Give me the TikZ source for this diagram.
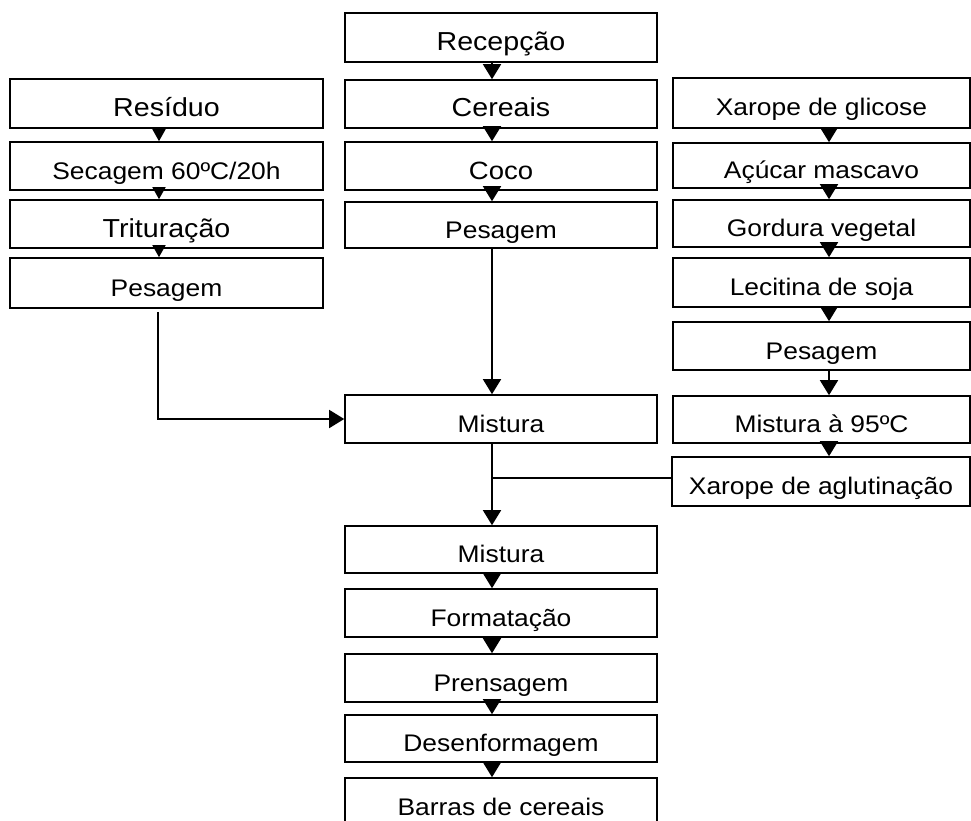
\documentclass[tikz,border=0pt]{standalone}
\usepackage{fontspec}
\setmainfont{Liberation Sans}[FakeStretch=1.1]
\usetikzlibrary{arrows.meta}
\begin{document}
\begin{tikzpicture}[x=1pt,y=-1pt,
  box/.style={draw,line width=1.6pt,rectangle,inner sep=0pt,text height=26pt,text depth=0pt,
    font=\fontsize{24}{28}\selectfont},
  big/.style={font=\fontsize{26}{30}\selectfont},
  cbox/.style={box,minimum width=312pt},
  lbox/.style={box,minimum width=313pt},
  rbox/.style={box,minimum width=297pt},
  arr/.style={line width=1.6pt,-{Triangle[length=15pt,width=18pt]}},
  sarr/.style={line width=1.6pt,-{Triangle[length=12pt,width=13pt]}},
  ln/.style={line width=1.6pt}]
\clip (0,0) rectangle (971,821);
\fill[white] (0,0) rectangle (971,821);
% centre column
\node[cbox,big,minimum height=49pt] (rec) at (501,37.5) {Recepção};
\node[cbox,big,minimum height=48pt] (cer) at (501,104) {Cereais};
\node[cbox,font=\fontsize{25}{29}\selectfont,minimum height=48pt] (coco) at (501,166) {Coco};
\node[cbox,minimum height=46pt] (pesc) at (501,225) {Pesagem};
\node[cbox,minimum height=48pt] (mis) at (501,419) {Mistura};
\node[cbox,minimum height=47pt] (mis2) at (501,549.5) {Mistura};
\node[cbox,minimum height=48pt] (form) at (501,613) {Formatação};
\node[cbox,minimum height=48pt] (pren) at (501,678) {Prensagem};
\node[cbox,minimum height=47pt] (desf) at (501,738.5) {Desenformagem};
\node[cbox,minimum height=48pt] (bar) at (501,802) {Barras de cereais};
% left column
\node[lbox,big,minimum height=49pt] (res) at (166.5,103.5) {Resíduo};
\node[lbox,minimum height=48pt] (sec) at (166.5,166) {Secagem 60ºC/20h};
\node[lbox,big,minimum height=48pt] (tri) at (166.5,224) {Trituração};
\node[lbox,minimum height=50pt] (pesl) at (166.5,283) {Pesagem};
% right column
\node[rbox,minimum height=50pt] (gli) at (821.5,103) {Xarope de glicose};
\node[rbox,minimum height=45pt] (acu) at (821.5,165.5) {Açúcar mascavo};
\node[rbox,minimum height=47pt] (gor) at (821.5,223.5) {Gordura vegetal};
\node[rbox,minimum height=49pt] (lec) at (821.5,282.5) {Lecitina de soja};
\node[rbox,minimum height=48pt] (pesr) at (821.5,346) {Pesagem};
\node[rbox,minimum height=47pt] (m95) at (821.5,419.5) {Mistura à 95ºC};
\node[box,minimum width=298pt,minimum height=49pt] (xag) at (821,481.5) {Xarope de aglutinação};
% connector x positions
\coordinate (cx) at (492,0);
\coordinate (lx) at (159,0);
\coordinate (rx) at (829,0);
\coordinate (j) at (492,478);
% centre arrows
\draw[arr] (rec.south -| cx) -- (cer.north -| cx);
\draw[arr] (cer.south -| cx) -- (coco.north -| cx);
\draw[arr] (coco.south -| cx) -- (pesc.north -| cx);
\draw[arr] (pesc.south -| cx) -- (mis.north -| cx);
\draw[arr] (mis.south -| cx) -- (mis2.north -| cx);
\draw[arr] (mis2.south -| cx) -- (form.north -| cx);
\draw[arr] (form.south -| cx) -- (pren.north -| cx);
\draw[arr] (pren.south -| cx) -- (desf.north -| cx);
\draw[arr] (desf.south -| cx) -- (bar.north -| cx);
% left arrows
\draw[sarr] (res.south -| lx) -- (sec.north -| lx);
\draw[sarr] (sec.south -| lx) -- (tri.north -| lx);
\draw[sarr] (tri.south -| lx) -- (pesl.north -| lx);
\draw[arr] ([yshift=-3pt]pesl.south -| 158,0) |- (mis.west);
% right arrows
\draw[arr] (gli.south -| rx) -- (acu.north -| rx);
\draw[arr] (acu.south -| rx) -- (gor.north -| rx);
\draw[arr] (gor.south -| rx) -- (lec.north -| rx);
\draw[arr] (lec.south -| rx) -- (pesr.north -| rx);
\draw[arr] (pesr.south -| rx) -- (m95.north -| rx);
\draw[arr] (m95.south -| rx) -- (xag.north -| rx);
% joining line
\draw[ln] (j -| xag.west) -- (j);
\end{tikzpicture}
\end{document}
